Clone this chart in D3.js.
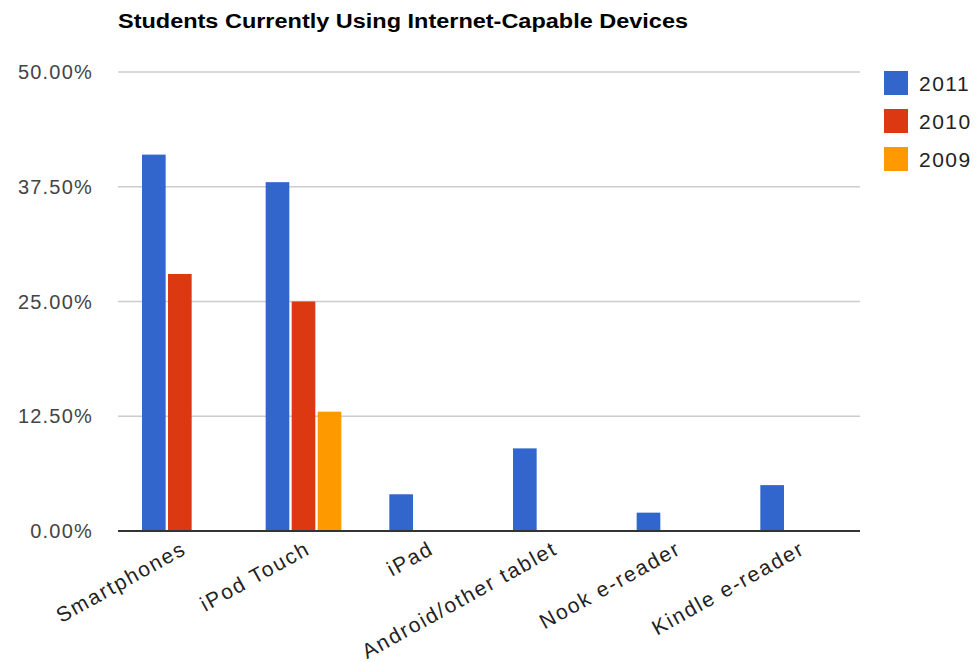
<!DOCTYPE html>
<html>
<head>
<meta charset="utf-8">
<script src="https://cdn.jsdelivr.net/npm/d3@7"></script>
<style>
  body { margin: 0; background: #fff; }
  text { font-family: "Liberation Sans", Arial, sans-serif; }
</style>
</head>
<body>
<div id="chart"></div>
<script>
// data
var devices = ["Smartphones", "iPod Touch", "iPad", "Android/other tablet", "Nook e-reader", "Kindle e-reader"];
var years = ["2011", "2010", "2009"];
var v2011 = [41, 38, 4, 9, 2, 5];
var v2010 = [28, 25, 0, 0, 0, 0];
var v2009 = [0, 13, 0, 0, 0, 0];
var yTicks = [0, 12.5, 25, 37.5, 50];
var colors = ["#3366cc", "#dc3912", "#ff9900"];

var series = [v2011, v2010, v2009];

var svg = d3.select("#chart").append("svg").attr("width", 977).attr("height", 662);

// plot area
var plotLeft = 118, plotRight = 860, plotTop = 72, plotBottom = 531;

var x0 = d3.scaleBand().domain(devices).range([plotLeft, plotRight]).paddingInner(0.388).paddingOuter(0.194);
var x1 = d3.scaleBand().domain(years).range([0, x0.bandwidth()]).paddingInner(0.09);
var y = d3.scaleLinear().domain([0, 50]).range([plotBottom, plotTop]);

// title
svg.append("text").attr("x", plotLeft).attr("y", 28)
  .attr("font-size", 20).attr("font-weight", "bold").attr("fill", "#000")
  .attr("textLength", 570).attr("lengthAdjust", "spacingAndGlyphs")
  .text("Students Currently Using Internet-Capable Devices");

// gridlines
svg.append("g").selectAll("line").data(yTicks.filter(function(d) { return d > 0; })).enter().append("line")
  .attr("x1", plotLeft).attr("x2", plotRight)
  .attr("y1", function(d) { return y(d); }).attr("y2", function(d) { return y(d); })
  .attr("stroke", "#cccccc").attr("stroke-width", 1.5);

// y labels
svg.append("g").selectAll("text").data(yTicks).enter().append("text")
  .attr("x", 93).attr("y", function(d) { return y(d) + 7; })
  .attr("text-anchor", "end").attr("font-size", 20).attr("fill", "#444")
  .attr("letter-spacing", 1.2)
  .text(function(d) { return d3.format(".2f")(d) + "%"; });

// bars
var groups = svg.append("g").selectAll("g").data(devices).enter().append("g")
  .attr("transform", function(d) { return "translate(" + x0(d) + ",0)"; });

groups.selectAll("rect").data(function(d, i) {
    return years.map(function(yr, j) { return { year: yr, value: series[j][i], c: colors[j] }; });
  }).enter().filter(function(d) { return d.value > 0; }).append("rect")
  .attr("x", function(d) { return x1(d.year); })
  .attr("width", x1.bandwidth())
  .attr("y", function(d) { return y(d.value); })
  .attr("height", function(d) { return y(0) - y(d.value); })
  .attr("fill", function(d) { return d.c; });

// baseline
svg.append("line").attr("x1", plotLeft).attr("x2", plotRight).attr("y1", plotBottom).attr("y2", plotBottom)
  .attr("stroke", "#333").attr("stroke-width", 2);

// x labels
svg.append("g").selectAll("text").data(devices).enter().append("text")
  .attr("transform", function(d) { return "translate(" + (x0(d) + x0.bandwidth() / 2 + 8) + ",553) rotate(-29)"; })
  .attr("text-anchor", "end").attr("font-size", 21).attr("fill", "#222")
  .attr("letter-spacing", 1.8)
  .text(function(d) { return d; });

// legend
var legend = svg.append("g").selectAll("g").data(years).enter().append("g")
  .attr("transform", function(d, i) { return "translate(884," + (71 + i * 38) + ")"; });
legend.append("rect").attr("width", 24).attr("height", 24)
  .attr("fill", function(d, i) { return colors[i]; });
legend.append("text").attr("x", 35).attr("y", 20).attr("font-size", 21).attr("fill", "#222")
  .attr("letter-spacing", 1.5)
  .text(function(d) { return d; });
</script>
</body>
</html>
